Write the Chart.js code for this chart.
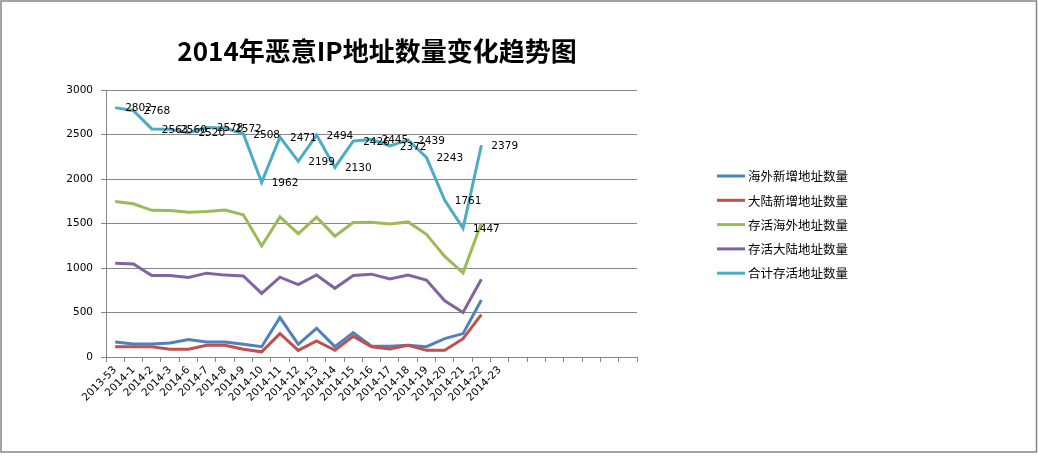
<!DOCTYPE html>
<html>
<head>
<meta charset="utf-8">
<script src="https://cdn.jsdelivr.net/npm/chart.js@4/dist/chart.umd.min.js"></script>
<style>
  html, body { margin: 0; padding: 0; background: #fff; }
  #wrap { width: 1038px; height: 460px; position: relative; }
</style>
</head>
<body>
<div id="wrap"><canvas id="grafico"></canvas></div>
<script>
// weeks on the x axis (extra blank slots like the original sheet)
const semanas = ['2013-53', '2014-1', '2014-2', '2014-3', '2014-6', '2014-7', '2014-8', '2014-9',
  '2014-10', '2014-11', '2014-12', '2014-13', '2014-14', '2014-15', '2014-16', '2014-17',
  '2014-18', '2014-19', '2014-20', '2014-21', '2014-22', '2014-23', '', '', '', '', '', '', ''];

const nomesSeries = ['海外新增地址数量', '大陆新增地址数量', '存活海外地址数量', '存活大陆地址数量', '合计存活地址数量'];
const cores = ['#4F81BD', '#C0504D', '#9BBB59', '#8064A2', '#4BACC6'];

const haiwaiNovo = [169, 146, 146, 157, 196, 169, 169, 142, 116, 443, 142, 323, 116, 274, 120, 120, 131, 116, 207, 263, 641];
const daluNovo = [116, 116, 116, 87, 87, 131, 131, 87, 58, 263, 75, 180, 75, 233, 116, 91, 131, 75, 75, 206, 477];
const haiwaiVivo = [1748, 1722, 1648, 1645, 1627, 1636, 1652, 1598, 1248, 1574, 1386, 1572, 1358, 1511, 1514, 1495, 1518, 1379, 1130, 946, 1505];
const daluVivo = [1054, 1046, 915, 915, 893, 942, 920, 910, 714, 897, 813, 922, 772, 915, 931, 877, 921, 864, 631, 501, 874];
const totalVivo = [2802, 2768, 2563, 2560, 2520, 2578, 2572, 2508, 1962, 2471, 2199, 2494, 2130, 2426, 2445, 2372, 2439, 2243, 1761, 1447, 2379];

const yTicks = [0, 500, 1000, 1500, 2000, 2500, 3000];

const titulo = '2014年恶意IP地址数量变化趋势图';
const cinza = '#868686';
const fonteNum = '10.5px "DejaVu Sans", Verdana, sans-serif';

const seriesValores = [haiwaiNovo, daluNovo, haiwaiVivo, daluVivo, totalVivo];

// border, title and legend drawn around the plot
const moldura = {
  id: 'moldura',
  beforeDraw(chart) {
    const ctx = chart.ctx;
    ctx.save();
    ctx.fillStyle = '#fff';
    ctx.fillRect(0, 0, chart.width, chart.height);
    ctx.strokeStyle = cinza;
    ctx.lineWidth = 1.5;
    ctx.strokeRect(1, 1, 1035.5, 451);
    ctx.restore();
  },
  afterDraw(chart) {
    const ctx = chart.ctx;
    ctx.save();
    ctx.fillStyle = '#000';
    ctx.font = 'bold 26px "Noto Sans CJK SC", sans-serif';
    ctx.textAlign = 'center';
    ctx.textBaseline = 'middle';
    ctx.fillText(titulo, 377, 51);

    // legend
    ctx.font = '12.5px "Noto Sans CJK SC", sans-serif';
    ctx.textAlign = 'left';
    chart.data.datasets.forEach((ds, i) => {
      const y = 176 + i * 24.3;
      ctx.strokeStyle = ds.borderColor;
      ctx.lineWidth = 3;
      ctx.beginPath();
      ctx.moveTo(717, y);
      ctx.lineTo(745, y);
      ctx.stroke();
      ctx.fillStyle = '#000';
      ctx.fillText(ds.label, 748, y + 0.5);
    });
    ctx.restore();
  }
};

// value labels for the total series only
const rotulos = {
  id: 'rotulos',
  afterDatasetsDraw(chart) {
    const ctx = chart.ctx;
    const meta = chart.getDatasetMeta(4);
    const valores = chart.data.datasets[4].data;
    ctx.save();
    ctx.font = fonteNum;
    ctx.fillStyle = '#000';
    ctx.textAlign = 'left';
    ctx.textBaseline = 'middle';
    meta.data.forEach((pt, i) => {
      ctx.fillText(String(valores[i]), pt.x + 10, pt.y + 1);
    });
    ctx.restore();
  }
};

const datasets = nomesSeries.map((nome, i) => ({
  label: nome,
  data: seriesValores[i],
  borderColor: cores[i],
  backgroundColor: cores[i],
  borderWidth: 3,
  pointRadius: 0,
  tension: 0,
  order: 5 - i
}));

const config = {
  type: 'line',
  data: { labels: semanas, datasets: datasets },
  plugins: [moldura, rotulos],
  options: {
    responsive: false,
    animation: false,
    devicePixelRatio: 1,
    layout: { padding: { top: 90, right: 401, bottom: 0, left: 0 } },
    plugins: {
      legend: { display: false },
      title: { display: false },
      tooltip: { enabled: false }
    },
    scales: {
      x: {
        offset: true,
        afterFit: (s) => { s.height = 103; },
        grid: {
          offset: true,
          drawOnChartArea: false,
          drawTicks: true,
          tickLength: 5,
          color: cinza
        },
        border: { color: cinza, width: 1 },
        ticks: {
          autoSkip: false,
          minRotation: 45,
          maxRotation: 45,
          padding: 2,
          color: '#000',
          font: { family: '"DejaVu Sans", Verdana, sans-serif', size: 10.5 }
        }
      },
      y: {
        min: 0,
        max: 3000,
        afterFit: (s) => { s.width = 106; },
        afterBuildTicks: (s) => { s.ticks = yTicks.map(v => ({ value: v })); },
        grid: { color: cinza, tickLength: 5, lineWidth: 1 },
        border: { color: cinza, width: 1 },
        ticks: {
          padding: 8,
          color: '#000',
          callback: (v) => String(v),
          font: { family: '"DejaVu Sans", Verdana, sans-serif', size: 10.5 }
        }
      }
    }
  }
};

const canvas = document.getElementById('grafico');
canvas.width = 1038;
canvas.height = 460;
new Chart(canvas, config);
</script>
</body>
</html>
